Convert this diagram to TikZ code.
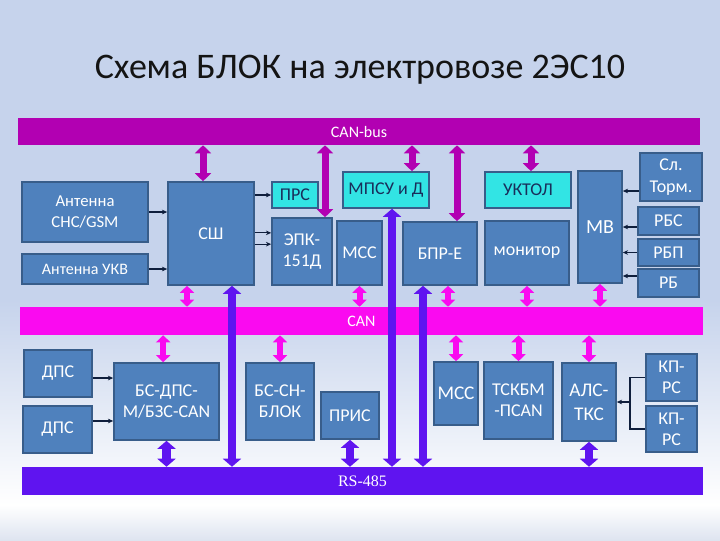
\documentclass[tikz,border=0pt]{standalone}
\usepackage{fontspec}
\setmainfont{Carlito}
\newfontfamily\rsfont{Liberation Serif}
\usetikzlibrary{arrows.meta}
\definecolor{bgtop}{RGB}{198,211,236}
\definecolor{bgbot}{RGB}{222,228,240}
\definecolor{titlecol}{RGB}{20,20,20}
\definecolor{busline}{RGB}{178,0,178}
\definecolor{canline}{RGB}{250,10,240}
\definecolor{rsline}{RGB}{95,20,240}
\definecolor{blkfill}{RGB}{79,129,189}
\definecolor{blkedge}{RGB}{56,93,138}
\definecolor{cyanfill}{RGB}{50,228,228}
\definecolor{cyantext}{RGB}{25,45,90}
\definecolor{wirecol}{RGB}{15,30,60}
\begin{document}
\begin{tikzpicture}[
    x=0.75pt, y=-0.75pt,
    box/.style={rectangle, draw=blkedge, line width=1.2pt, fill=blkfill, text=white, align=center, inner sep=1pt, font=\fontsize{13.5}{16}\selectfont},
    cbox/.style={box, fill=cyanfill, text=cyantext},
    bar/.style={rectangle, inner sep=0pt, text=white, font=\fontsize{12}{14}\selectfont},
    busarr/.style={{Triangle[width=12pt,length=6pt]}-{Triangle[width=12pt,length=6pt]}, line width=5.25pt, draw=busline},
    canarr/.style={{Triangle[width=10.5pt,length=5.25pt]}-{Triangle[width=10.5pt,length=5.25pt]}, line width=4.5pt, draw=canline},
    rsarr/.style={{Triangle[width=13.5pt,length=6pt]}-{Triangle[width=13.5pt,length=6pt]}, line width=6.5pt, draw=rsline},
    link/.style={-{Stealth[length=4pt,width=3.5pt]}, line width=0.9pt, draw=wirecol},
    wire/.style={line width=0.9pt, draw=wirecol}
]
    \useasboundingbox (0,0) rectangle (720,540);
    \fill[bgtop] (0,0) rectangle (720,300);
    \shade[top color=bgtop, bottom color=white] (0,300) rectangle (720,505);
    \shade[top color=white, bottom color=bgbot] (0,505) rectangle (720,540);

    \node[font=\fontsize{27}{32}\selectfont, text=titlecol] (title) at (360,70) {Схема БЛОК на электровозе 2ЭС10};

    \node[bar, fill=busline, minimum width=511.5pt, minimum height=20.25pt] (canbus) at (359,131.5) {CAN-bus};
    \node[bar, fill=canline, minimum width=512.25pt, minimum height=21pt] (can) at (361.5,321) {CAN};
    \node[bar, fill=rsline, minimum width=510.75pt, minimum height=21pt, font=\rsfont\fontsize{12}{14}\selectfont] (rs) at (362.5,481) {RS-485};

    \node[box, minimum width=94.5pt, minimum height=45pt, font=\fontsize{12.5}{16}\selectfont] (ant1) at (85,212) {Антенна\\СНС/GSM};
    \node[box, minimum width=94.5pt, minimum height=22.5pt, font=\fontsize{12}{16}\selectfont] (ant2) at (85,269) {Антенна УКВ};
    \node[box, minimum width=64.5pt, minimum height=77.25pt] (ssh) at (211,233.5) {СШ};
    \node[cbox, minimum width=34.5pt, minimum height=19.5pt] (prs) at (295,195) {ПРС};
    \node[box, minimum width=45pt, minimum height=50.25pt] (epk) at (302,251.5) {ЭПК-\\151Д};
    \node[cbox, minimum width=64.5pt, minimum height=27pt] (mpsu) at (386,190) {МПСУ и Д};
    \node[box, minimum width=33.75pt, minimum height=48pt] (mss1) at (359.5,253) {МСС};
    \node[box, minimum width=55.5pt, minimum height=47.25pt] (bpr) at (440,253.5) {БПР-Е};
    \node[cbox, minimum width=64.5pt, minimum height=27pt] (uktol) at (528,190) {УКТОЛ};
    \node[box, minimum width=63pt, minimum height=48pt] (monitor) at (527,253) {монитор};
    \node[box, minimum width=33pt, minimum height=84pt, font=\fontsize{15}{18}\selectfont] (mv) at (600,227) {МВ};
    \node[box, minimum width=46.5pt, minimum height=36pt] (slt) at (671,177) {Сл.\\Торм.};
    \node[box, minimum width=45.75pt, minimum height=21pt] (rbs) at (668.5,221) {РБС};
    \node[box, minimum width=45.75pt, minimum height=20.25pt] (rbp) at (668.5,252.5) {РБП};
    \node[box, minimum width=45.75pt, minimum height=21pt] (rb) at (668.5,283) {РБ};

    \node[box, minimum width=51pt, minimum height=35.25pt] (dps1) at (58,373.5) {ДПС};
    \node[box, minimum width=51.75pt, minimum height=35.25pt] (dps2) at (57.5,429.5) {ДПС};
    \node[box, minimum width=78.75pt, minimum height=57.75pt] (bsdps) at (166.5,401.5) {БС-ДПС-\\М/БЗС-CAN};
    \node[box, minimum width=51pt, minimum height=57.75pt] (bssn) at (280,401.5) {БС-СН-\\БЛОК};
    \node[box, minimum width=43.5pt, minimum height=35.25pt] (pris) at (350,415.5) {ПРИС};
    \node[box, minimum width=33pt, minimum height=47.25pt, font=\fontsize{14.5}{16}\selectfont] (mss2) at (456,393.5) {МСС};
    \node[box, minimum width=51.75pt, minimum height=57.75pt] (tskbm) at (518.5,400.5) {ТСКБМ\\-ПCAN};
    \node[box, minimum width=40.5pt, minimum height=58.5pt, font=\fontsize{14.5}{18}\selectfont] (als) at (589,402) {АЛС-\\ТКС};
    \node[box, minimum width=38.25pt, minimum height=35.25pt] (kp1) at (671.5,377.5) {КП-\\РС};
    \node[box, minimum width=38.25pt, minimum height=34.5pt] (kp2) at (671.5,429) {КП-\\РС};

    \draw[busarr] ([xshift=-6pt]ssh.north) -- ([xshift=-6pt]ssh.north |- canbus.south);
    \draw[busarr] ([xshift=17.25pt]epk.north) -- ([xshift=17.25pt]epk.north |- canbus.south);
    \draw[busarr] ([xshift=19.5pt]mpsu.north) -- ([xshift=19.5pt]mpsu.north |- canbus.south);
    \draw[busarr] ([xshift=12.75pt]bpr.north) -- ([xshift=12.75pt]bpr.north |- canbus.south);
    \draw[busarr] ([xshift=2.25pt]uktol.north) -- ([xshift=2.25pt]uktol.north |- canbus.south);

    \draw[canarr] ([xshift=-18pt]ssh.south) -- ([xshift=-18pt]ssh.south |- can.north);
    \draw[canarr] (mss1.south) -- (mss1.south |- can.north);
    \draw[canarr] ([xshift=6pt]bpr.south) -- ([xshift=6pt]bpr.south |- can.north);
    \draw[canarr] (monitor.south) -- (monitor.south |- can.north);
    \draw[canarr] (mv.south) -- (mv.south |- can.north);
    \draw[canarr] ([xshift=-2.5pt]bsdps.north |- can.south) -- ([xshift=-2.5pt]bsdps.north);
    \draw[canarr] (bssn.north |- can.south) -- (bssn.north);
    \draw[canarr] (mss2.north |- can.south) -- (mss2.north);
    \draw[canarr] (tskbm.north |- can.south) -- (tskbm.north);
    \draw[canarr] (als.north |- can.south) -- (als.north);

    \draw[rsarr] ([xshift=15.75pt]ssh.south) -- ([xshift=15.75pt]ssh.south |- rs.north);
    \draw[rsarr] ([xshift=4.5pt]mpsu.south) -- ([xshift=4.5pt]mpsu.south |- rs.north);
    \draw[rsarr] ([xshift=-12.75pt]bpr.south) -- ([xshift=-12.75pt]bpr.south |- rs.north);
    \draw[rsarr] (bsdps.south) -- (bsdps.south |- rs.north);
    \draw[rsarr] (pris.south) -- (pris.south |- rs.north);
    \draw[rsarr] (als.south) -- (als.south |- rs.north);

    \draw[link] (ant1.east) -- (ant1.east -| ssh.west);
    \draw[link] (ant2.east) -- (ant2.east -| ssh.west);
    \draw[link] (prs.west -| ssh.east) -- (prs.west);
    \draw[link] ([yshift=14pt]epk.west -| ssh.east) -- ([yshift=14pt]epk.west);
    \draw[link] ([yshift=5.5pt]epk.west -| ssh.east) -- ([yshift=5.5pt]epk.west);
    \draw[link] ([yshift=-10.5pt]slt.west) -- ([yshift=-10.5pt]slt.west -| mv.east);
    \draw[link] ([yshift=-4.5pt]rbs.west) -- ([yshift=-4.5pt]rbs.west -| mv.east);
    \draw[link] (rbp.west) -- (rbp.west -| mv.east);
    \draw[link] ([yshift=5.25pt]rb.west) -- ([yshift=5.25pt]rb.west -| mv.east);
    \draw[link] ([yshift=-3.4pt]dps1.east) -- ([yshift=-3.4pt]dps1.east -| bsdps.west);
    \draw[link] ([yshift=6.4pt]dps2.east) -- ([yshift=6.4pt]dps2.east -| bsdps.west);

    \coordinate (fork) at (630,402);
    \draw[wire] (kp1.west) -| (fork) |- (kp2.west);
    \draw[link] (fork) -- (als.east);
\end{tikzpicture}
\end{document}
